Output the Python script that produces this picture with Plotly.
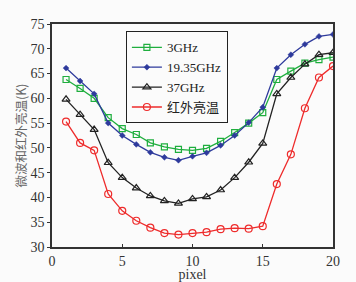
import plotly.graph_objects as go

pixel = list(range(1, 21))
ghz3 = [63.8, 62.0, 60.0, 56.1, 53.9, 52.7, 51.0, 50.2, 49.7, 49.5,
        49.9, 51.3, 53.1, 55.0, 57.1, 63.8, 65.5, 67.1, 67.8, 68.3]
ghz1935 = [66.1, 63.5, 60.9, 55.0, 52.5, 50.7, 49.1, 48.1, 47.5, 48.3,
           49.0, 50.5, 52.5, 55.1, 58.2, 66.1, 68.8, 70.9, 72.5, 72.9]
ghz37 = [59.8, 56.7, 53.7, 47.0, 44.0, 41.9, 40.3, 39.3, 38.8, 39.7,
         40.1, 41.5, 44.0, 47.1, 50.9, 60.9, 64.2, 66.9, 68.8, 69.2]
infrared = [55.3, 51.0, 49.5, 40.7, 37.3, 35.3, 33.9, 32.8, 32.5, 32.8,
            33.0, 33.6, 33.8, 33.7, 34.2, 42.7, 48.7, 58.0, 64.2, 66.5]

names = ["3GHz", "19.35GHz", "37GHz", "红外亮温"]
xticks = [0, 5, 10, 15, 20]
yticks = [30, 35, 40, 45, 50, 55, 60, 65, 70, 75]

series = [
    (ghz3, "#1fae3e", "square-open", 6, 1.2),
    (ghz1935, "#2e3a9c", "diamond", 4.5, 0.5),
    (ghz37, "#222222", "triangle-up-open", 7, 1.2),
    (infrared, "#ee2b2b", "circle-open", 7, 1.2),
]

fig = go.Figure()
for name, (vals, col, sym, sz, lw) in zip(names, series):
    fig.add_trace(go.Scatter(
        x=pixel, y=vals, name=name, mode="lines+markers",
        line=dict(color=col, width=1.3),
        marker=dict(symbol=sym, size=sz, color=col, line=dict(color=col, width=lw)),
    ))

font_serif = "Liberation Serif, Times New Roman, serif"
fig.update_layout(
    width=356, height=282,
    margin=dict(l=52, r=23, t=24, b=35),
    paper_bgcolor="#fbfbfb", plot_bgcolor="#fbfbfb",
    font=dict(family=font_serif, size=14, color="#333333"),
    showlegend=True,
    legend=dict(
        x=0.263, y=0.967, xanchor="left", yanchor="top",
        bgcolor="#fbfbfb", bordercolor="#222222", borderwidth=1,
        font=dict(family="Liberation Serif, Noto Sans CJK SC, serif", size=13, color="#222222"),
        tracegroupgap=0, itemwidth=30,
    ),
)
fig.update_xaxes(
    range=[0, 20], tickvals=xticks, ticks="inside", ticklen=3,
    showgrid=False, zeroline=False, showline=True, linecolor="#333333",
    linewidth=1.5, mirror=True, tickcolor="#333333", automargin=False,
    title=dict(text="pixel", standoff=0, font=dict(size=14)),
)
fig.update_yaxes(
    range=[30, 75], tickvals=yticks, ticks="outside", ticklen=3,
    showgrid=False, zeroline=False, showline=True, linecolor="#333333",
    linewidth=1.5, mirror=True, tickcolor="#333333", automargin=False,
    title=dict(text="微波和红外亮温(K)", standoff=0,
               font=dict(family="Noto Sans CJK SC, serif", size=12.5, color="#666666")),
)
fig.write_html("out.html", config={"displayModeBar": False},
               post_script="document.body.style.margin='0';document.body.style.overflow='hidden';")
